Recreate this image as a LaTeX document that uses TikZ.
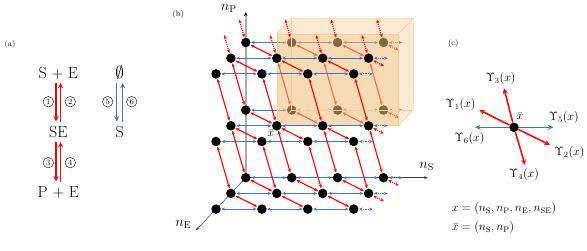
\documentclass[tikz,border=0pt]{standalone}
\usepackage{amsmath,amssymb}
\usepackage{tikz}
\usetikzlibrary{arrows.meta}
\pgfdeclarelayer{back}
\pgfdeclarelayer{veil}
\pgfsetlayers{back,veil,main}
\definecolor{flowblue}{RGB}{68,114,196}
\definecolor{veilfill}{RGB}{240,190,120}
\definecolor{veiledge}{RGB}{245,205,150}
\tikzstyle{site} = [circle, fill=black, inner sep=0pt, minimum size=9.5pt]
\tikzstyle{hop} = [{Stealth[length=3.8pt,width=3.2pt]}-{Stealth[length=3.8pt,width=3.2pt]}, line width=1.1pt, shorten <=0.3pt, shorten >=0.3pt]
\tikzstyle{ghost} = [densely dotted]
\tikzstyle{species} = [font=\fontsize{16}{19}\selectfont, text height=10.9pt, text depth=0pt, inner xsep=1pt, inner ysep=4.5pt]
\tikzstyle{rate} = [circle, draw, inner sep=0pt, minimum size=10.5pt, font=\fontsize{8}{9}\selectfont]
\tikzstyle{flux} = [-{Stealth[length=5.5pt,width=5pt]}, line width=1.5pt]
\tikzstyle{panel} = [font=\footnotesize]
\tikzstyle{prop} = [font=\large, inner sep=1pt]
\tikzstyle{axis} = [-{Stealth[length=4pt,width=3pt]}, line width=0.5pt, black!75]

\begin{document}
\begin{tikzpicture}[x=1pt,y=-1pt]
\useasboundingbox (0,0) rectangle (587,251);

% (a) reaction scheme
\node (tagA) at (10,45) [panel] {(a)};
\node (SpE) at (58.3,72.7) [species] {S + E};
\node (SEc) at (58.3,131.7) [species] {SE};
\node (PpE) at (58.3,191.7) [species] {P + E};
\node (nul) at (119.7,72.7) [species] {$\emptyset$};
\node (Sub) at (119.7,131.7) [species] {S};
\node (r1) at (48.3,101.7) [rate] {1};
\node (r2) at (70.3,101.7) [rate] {2};
\node (r3) at (48.3,162.7) [rate] {3};
\node (r4) at (70.3,162.7) [rate] {4};
\node (r5) at (107.7,101.7) [rate] {5};
\node (r6) at (131.7,101.7) [rate] {6};
\draw [flux, red] ([xshift=-2.3pt]SpE.south) -- ([xshift=-2.3pt]SEc.north);
\draw [flux, red] ([xshift=2.3pt]SEc.north) -- ([xshift=2.3pt]SpE.south);
\draw [flux, red] ([xshift=-2.3pt]SEc.south) -- ([xshift=-2.3pt]PpE.north);
\draw [flux, red] ([xshift=2.3pt]PpE.north) -- ([xshift=2.3pt]SEc.south);
\draw [flux, flowblue] ([xshift=-3pt]nul.south) -- ([xshift=-3pt]Sub.north);
\draw [flux, flowblue] ([xshift=3pt]Sub.north) -- ([xshift=3pt]nul.south);

% (b) state lattice
\node (tagB) at (178.3,15) [panel] {(b)};
\begin{scope}[shift={(245.8,177.7)}, x={(45.9pt,0pt)}, y={(0pt,67.6pt)}, z={(-14.9pt,-15.7pt)}]
  \coordinate (orig) at (0,0,0);
  \coordinate (ptop) at (0,2.45,0);
  \coordinate (stop) at (3.97,0,0);
  \coordinate (etop) at (0,0,3.35);
  \foreach \p in {0,1,2}
    \foreach \e in {0,1,2} {
      \coordinate (b\p\e) at (3.42,\p,\e);
      \coordinate (r\p\e) at (3.5,\p,\e+0.5);
    }
  \foreach \s in {0,...,3}
    \foreach \e in {0,1}
      \coordinate (u\s\e) at (\s,2.45,\e+0.45);

  \begin{pgfonlayer}{back}
  \draw [gray!65, line width=1.4pt, -{Stealth[length=4pt,width=3.5pt,black]}] (orig) -- (ptop);
  \draw [axis] (orig) -- (stop);
  \draw [axis] (orig) -- (etop);
  % row n_E = 0 above the floor, seen through the box
  \foreach \s in {0,...,3}
    \foreach \p in {1,2}
      \node (n\s\p0) at (\s,\p,0) [site] {};
  \end{pgfonlayer}
  \foreach \s in {0,...,3} {
    \node (n\s00) at (\s,0,0) [site] {};
    \foreach \p in {0,1,2}
      \foreach \e in {1,2}
        \node (n\s\p\e) at (\s,\p,\e) [site] {};
  }
  \node (labP) at ([shift={(-17pt,3.6pt)}]ptop) [font=\Large, inner sep=0pt] {$n_{\mathrm{P}}$};
  \node (labS) at ([shift={(-1.3pt,11pt)}]stop) [font=\Large, inner sep=0pt] {$n_{\mathrm{S}}$};
  \node (labE) at ([shift={(-12.6pt,6.3pt)}]etop) [font=\Large, inner sep=0pt] {$n_{\mathrm{E}}$};
  \node (xbl) at ([shift={(-6.1pt,-7.5pt)}]n111) [font=\large, inner sep=0pt] {$\bar{x}$};

  \begin{pgfonlayer}{back}
  \foreach \p in {1,2} {
    \foreach \s [count=\t] in {0,1,2} {
      \draw [hop, flowblue] (n\s\p0) -- (n\t\p0);
      \draw [hop, red] (n\s\p0) -- (n\t\p1);
    }
    \draw [hop, flowblue, ghost] (n3\p0) -- (b\p0);
    \draw [hop, red, ghost] (n3\p0) -- (r\p0);
  }
  \foreach \s in {0,...,3}
    \draw [hop, red] (n\s10) -- (n\s21);
  \end{pgfonlayer}

  % the box
  \begin{pgfonlayer}{veil}
  \fill [veilfill, fill opacity=0.33] (1,1,1) -- (1,2.36,1) -- (1,2.36,0) -- (3.65,2.36,0) -- (3.65,1,0) -- (3.65,1,1) -- cycle;
  \fill [veilfill, fill opacity=0.33] (1,1,1) -- (1,2.36,1) -- (3.65,2.36,1) -- (3.65,1,1) -- cycle;
  \draw [veiledge, line width=0.6pt] (1,1,1) -- (1,2.36,1) -- (3.65,2.36,1) -- (3.65,1,1) -- cycle;
  \draw [veiledge, line width=0.6pt] (1,2.36,1) -- (1,2.36,0) -- (3.65,2.36,0) -- (3.65,2.36,1);
  \draw [veiledge, line width=0.6pt] (3.65,2.36,0) -- (3.65,1,0) -- (3.65,1,1);
  \draw [veiledge, line width=0.6pt] (1,2.36,0) -- (1,1,0) -- (3.65,1,0);
  \draw [veiledge, line width=0.6pt] (1,1,0) -- (1,1,1);
  \end{pgfonlayer}

  \foreach \p/\e in {0/0,0/1,0/2,1/1,1/2,2/1,2/2} {
    \foreach \s [count=\t] in {0,1,2}
      \draw [hop, flowblue] (n\s\p\e) -- (n\t\p\e);
    \draw [hop, flowblue, ghost] (n3\p\e) -- (b\p\e);
  }
  \foreach \p/\e [evaluate=\e as \f using int(\e+1)] in {0/0,0/1,1/1,2/1} {
    \foreach \s [count=\t] in {0,1,2}
      \draw [hop, red] (n\s\p\e) -- (n\t\p\f);
    \draw [hop, red, ghost] (n3\p\e) -- (r\p\e);
  }
  \foreach \p/\e [evaluate=\p as \q using int(\p+1), evaluate=\e as \f using int(\e+1)] in {0/0,0/1,1/1}
    \foreach \s in {0,...,3}
      \draw [hop, red] (n\s\p\e) -- (n\s\q\f);
  \foreach \s in {0,...,3}
    \foreach \e in {0,1}
      \draw [hop, red, ghost] (n\s2\e) -- (u\s\e);
\end{scope}

% (c) moves out of one state
\node (tagC) at (453.3,44) [panel] {(c)};
\node (ctr) at (514,127.3) [site] {};
\coordinate (y1) at (479.3,110);
\coordinate (y2) at (550,145);
\coordinate (y3) at (504,88.3);
\coordinate (y4) at (525,165);
\coordinate (y5) at (553.3,127.3);
\coordinate (y6) at (475,127.3);
\draw [flux, red] (ctr) -- (y1);
\draw [flux, red] (ctr) -- (y2);
\draw [flux, red] (ctr) -- (y3);
\draw [flux, red] (ctr) -- (y4);
\draw [flux, flowblue] (ctr) -- (y5);
\draw [flux, flowblue] (ctr) -- (y6);
\node (l1) at (460.5,104.3) [prop] {$\Upsilon_1(x)$};
\node (l2) at (569.5,152.5) [prop] {$\Upsilon_2(x)$};
\node (l3) at (500.7,78.7) [prop] {$\Upsilon_3(x)$};
\node (l4) at (524,175) [prop] {$\Upsilon_4(x)$};
\node (l5) at (563.8,117.7) [prop] {$\Upsilon_5(x)$};
\node (l6) at (469.5,138.3) [prop] {$\Upsilon_6(x)$};
\node (xbc) at (520,116.5) [prop] {$\bar{x}$};
\node (defx) at (451.7,209) [prop, anchor=west, inner sep=0pt] {$x=(n_{\mathrm{S}},n_{\mathrm{P}},n_{\mathrm{E}},n_{\mathrm{SE}})$};
\node (defxb) at (451.7,227.5) [prop, anchor=west, inner sep=0pt] {$\bar{x}=(n_{\mathrm{S}},n_{\mathrm{P}})$};
\end{tikzpicture}
\end{document}
